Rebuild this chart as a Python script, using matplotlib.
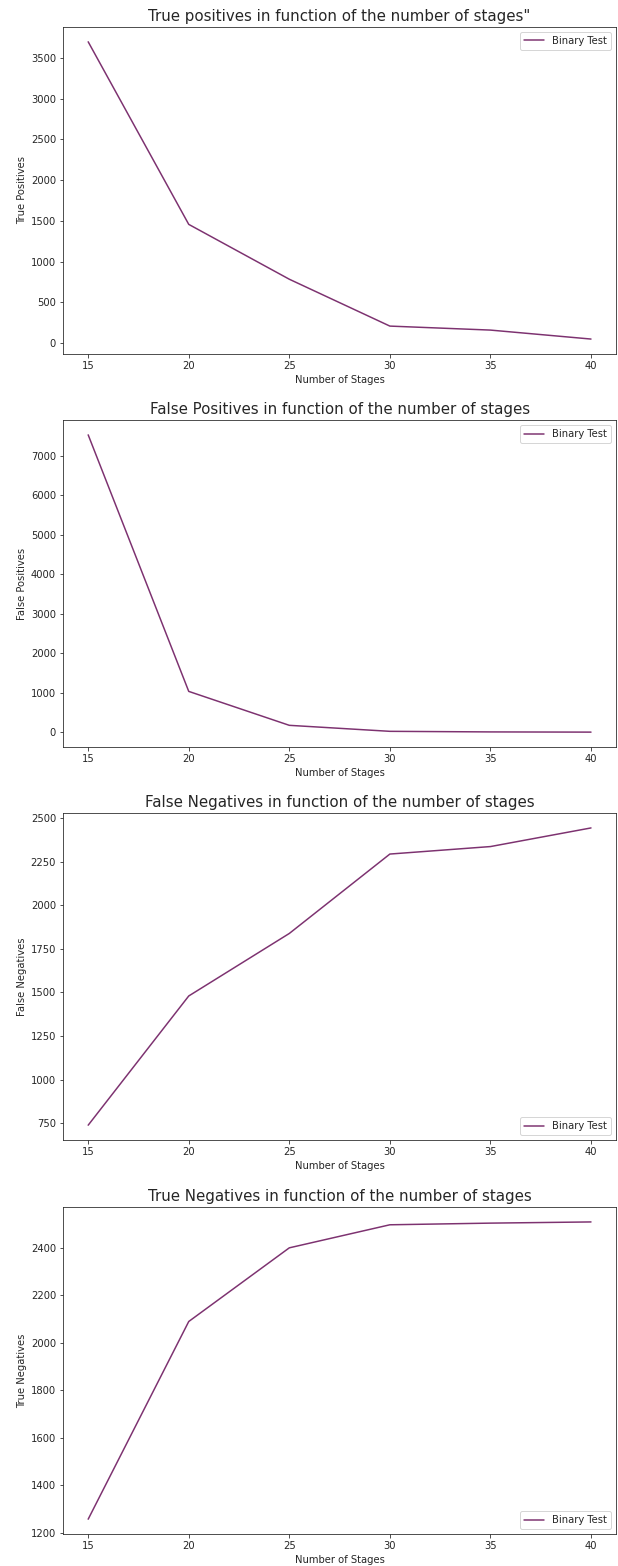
import matplotlib
matplotlib.use('Agg')
import matplotlib.pyplot as plt
import seaborn as sns

# Данные
stages = [15, 20, 25, 30, 35, 40]
true_pos = [3696, 1456, 783, 208, 159, 49]
false_pos = [7531, 1036, 177, 25, 10, 5]
false_neg = [738, 1480, 1839, 2295, 2338, 2445]
true_neg = [1258, 2090, 2400, 2497, 2504, 2509]

titles = ['True positives in function of the number of stages"',
          'False Positives in function of the number of stages',
          'False Negatives in function of the number of stages',
          'True Negatives in function of the number of stages']
ylabels = ['True Positives', 'False Positives', 'False Negatives', 'True Negatives']
legend_loc = ['upper right', 'upper right', 'lower right', 'lower right']

sns.set_style('ticks')
plt.rcParams['font.family'] = ['DejaVu Sans']

fig = plt.figure(figsize=(618 / 72, 1566 / 72), dpi=72)
bottoms = [0.774, 0.523, 0.272, 0.0204]
series = [true_pos, false_pos, false_neg, true_neg]

for i in range(4):
	ax = fig.add_axes([0.102, bottoms[i], 0.895, 0.2088])
	ax.plot(stages, series[i], color='#7d3270', lw=1.5, label='Binary Test')
	ax.set_title(titles[i], fontsize=15)
	ax.set_xlabel('Number of Stages', fontsize=10)
	ax.set_ylabel(ylabels[i], fontsize=10)
	ax.set_xticks([15, 20, 25, 30, 35, 40])
	ax.tick_params(labelsize=10)
	ax.legend(loc=legend_loc[i], fontsize=10)

fig.savefig('out.png', dpi=72)
